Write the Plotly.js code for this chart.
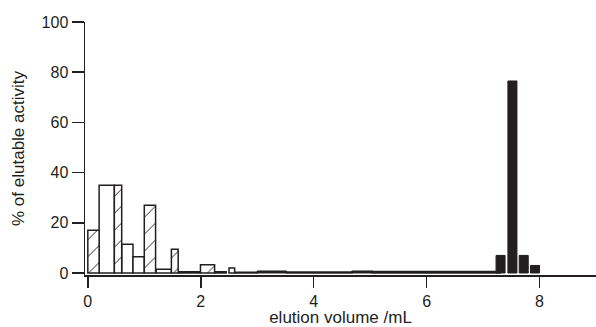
<!DOCTYPE html>
<html><head><meta charset="utf-8">
<script src="https://cdn.plot.ly/plotly-3.0.1.min.js"></script>
<style>body{margin:0;background:#fff}#c{width:596px;height:327px}</style>
</head><body><div id="c"></div>
<script>
// hatched fractions
const hatchX = [0.1, 0.535, 1.1, 1.54, 2.12, 2.55];
const hatchW = [0.2, 0.13, 0.2, 0.12, 0.25, 0.1];
const hatchY = [17, 35, 27, 9.5, 3.3, 2];
// open (white) fractions
const openX = [0.335, 0.7, 0.9, 1.345, 1.8, 2.35, 2.8, 4.1, 6.17];
const openW = [0.27, 0.2, 0.2, 0.27, 0.4, 0.2, 0.4, 1.15, 2.26];
const openY = [35, 11.5, 6.5, 1.5, 0.5, 0.5, 0.3, 0.4, 0.6];
// solid (black) fractions
const solidX = [3.26, 4.86, 7.31, 7.52, 7.72, 7.92];
const solidW = [0.52, 0.37, 0.16, 0.16, 0.16, 0.16];
const solidY = [0.8, 0.8, 7, 76.5, 7, 3];

const ink = '#231f20';
const fam = 'Liberation Sans, Arial, sans-serif';
const tickFont = {family: fam, size: 16, color: ink};
const titleFont = {family: fam, size: 17, color: ink};

const traces = [
  {type:'bar', x: openX, y: openY, width: openW,
   marker:{color:'white', line:{color: ink, width:1.5}}},
  {type:'bar', x: hatchX, y: hatchY, width: hatchW,
   marker:{color:'white', line:{color: ink, width:1.5},
           pattern:{shape:'/', fgcolor: ink, bgcolor:'white', size:12, solidity:0.08}}},
  {type:'bar', x: solidX, y: solidY, width: solidW,
   marker:{color: ink, line:{color: ink, width:1}}}
];

const layout = {
  width:596, height:327,
  margin:{l:85, r:0, t:22, b:52},
  paper_bgcolor:'white', plot_bgcolor:'white',
  showlegend:false, barmode:'overlay',
  font: tickFont,
  xaxis:{range:[-0.05, 9.0], tickvals:[0,2,4,6,8], ticks:'outside', ticklen:11,
         tickwidth:1.5, tickcolor: ink, showline:true, linecolor: ink, linewidth:1.5,
         showgrid:false, zeroline:false, tickfont: tickFont,
         title:{text:'elution volume /mL', font: titleFont, standoff:3}},
  yaxis:{range:[-0.8, 100], tickvals:[0,20,40,60,80,100], ticks:'outside', ticklen:12,
         tickwidth:1.5, tickcolor: ink, showline:true, linecolor: ink, linewidth:1.5,
         showgrid:false, zeroline:false, tickfont: tickFont,
         title:{text:'% of elutable activity', font: titleFont, standoff:12}}
};
Plotly.newPlot('c', traces, layout, {staticPlot:true});
</script></body></html>
